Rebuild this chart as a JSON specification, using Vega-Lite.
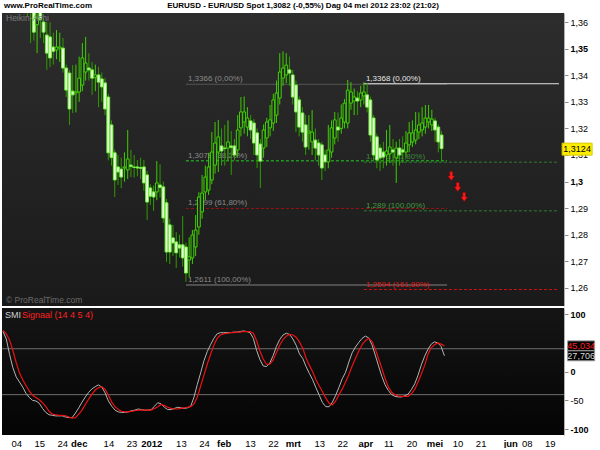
{
  "$schema": "https://vega.github.io/schema/vega-lite/v6.json",
  "background": "white",
  "padding": {"left": 0, "top": 2, "right": 0, "bottom": 0},
  "spacing": 2,
  "config": {"view": {"stroke": null}, "font": "Liberation Sans", "axis": {"labelOverlap": false, "labelFlush": false, "labelBound": false}},
  "datasets": {
    "ha": [
      {"i":0,"o":1.379,"c":1.375,"h":1.385,"l":1.368},
      {"i":1,"o":1.377,"c":1.372,"h":1.382,"l":1.366},
      {"i":2,"o":1.3745,"c":1.376,"h":1.385,"l":1.37},
      {"i":3,"o":1.3752,"c":1.3775,"h":1.386,"l":1.37},
      {"i":4,"o":1.3765,"c":1.372,"h":1.38,"l":1.365},
      {"i":5,"o":1.374,"c":1.369,"h":1.378,"l":1.362},
      {"i":6,"o":1.3715,"c":1.366,"h":1.376,"l":1.3521},
      {"i":7,"o":1.368,"c":1.3562,"h":1.37,"l":1.353},
      {"i":8,"o":1.359,"c":1.3615,"h":1.365,"l":1.3483},
      {"i":9,"o":1.364,"c":1.361,"h":1.368,"l":1.354},
      {"i":10,"o":1.36,"c":1.3562,"h":1.3615,"l":1.3521},
      {"i":11,"o":1.3551,"c":1.3483,"h":1.36,"l":1.342},
      {"i":12,"o":1.3544,"c":1.3465,"h":1.36,"l":1.343},
      {"i":13,"o":1.3506,"c":1.349,"h":1.356,"l":1.344},
      {"i":14,"o":1.3495,"c":1.3506,"h":1.357,"l":1.346},
      {"i":15,"o":1.3502,"c":1.3506,"h":1.356,"l":1.345},
      {"i":16,"o":1.3502,"c":1.3427,"h":1.354,"l":1.341},
      {"i":17,"o":1.3427,"c":1.3344,"h":1.344,"l":1.3318},
      {"i":18,"o":1.3408,"c":1.3273,"h":1.342,"l":1.3213},
      {"i":19,"o":1.334,"c":1.3326,"h":1.3438,"l":1.3258},
      {"i":20,"o":1.3333,"c":1.3337,"h":1.344,"l":1.326},
      {"i":21,"o":1.3337,"c":1.3389,"h":1.347,"l":1.33},
      {"i":22,"o":1.3363,"c":1.3465,"h":1.3521,"l":1.334},
      {"i":23,"o":1.3412,"c":1.3446,"h":1.3544,"l":1.338},
      {"i":24,"o":1.3427,"c":1.342,"h":1.3483,"l":1.338},
      {"i":25,"o":1.342,"c":1.3389,"h":1.345,"l":1.3326},
      {"i":26,"o":1.3392,"c":1.3401,"h":1.344,"l":1.334},
      {"i":27,"o":1.3401,"c":1.3374,"h":1.3431,"l":1.328},
      {"i":28,"o":1.3386,"c":1.3356,"h":1.341,"l":1.33},
      {"i":29,"o":1.3371,"c":1.3273,"h":1.339,"l":1.325},
      {"i":30,"o":1.3318,"c":1.3108,"h":1.333,"l":1.308},
      {"i":31,"o":1.3213,"c":1.309,"h":1.323,"l":1.306},
      {"i":32,"o":1.3108,"c":1.3006,"h":1.312,"l":1.2942},
      {"i":33,"o":1.3055,"c":1.3036,"h":1.31,"l":1.2987},
      {"i":34,"o":1.3047,"c":1.3017,"h":1.309,"l":1.2975},
      {"i":35,"o":1.3051,"c":1.3055,"h":1.311,"l":1.3},
      {"i":36,"o":1.3044,"c":1.3085,"h":1.3194,"l":1.301},
      {"i":37,"o":1.3062,"c":1.3057,"h":1.3119,"l":1.3017},
      {"i":38,"o":1.3055,"c":1.3053,"h":1.31,"l":1.3015},
      {"i":39,"o":1.3055,"c":1.3051,"h":1.3081,"l":1.302},
      {"i":40,"o":1.3053,"c":1.305,"h":1.309,"l":1.301},
      {"i":41,"o":1.3055,"c":1.2995,"h":1.3081,"l":1.2965},
      {"i":42,"o":1.3025,"c":1.2923,"h":1.304,"l":1.2856},
      {"i":43,"o":1.2976,"c":1.2945,"h":1.299,"l":1.2912},
      {"i":44,"o":1.2961,"c":1.2942,"h":1.2985,"l":1.289},
      {"i":45,"o":1.2961,"c":1.2995,"h":1.3077,"l":1.293},
      {"i":46,"o":1.2987,"c":1.2978,"h":1.3065,"l":1.294},
      {"i":47,"o":1.298,"c":1.2863,"h":1.3,"l":1.2845},
      {"i":48,"o":1.292,"c":1.2735,"h":1.2935,"l":1.2698},
      {"i":49,"o":1.2837,"c":1.2735,"h":1.286,"l":1.269},
      {"i":50,"o":1.2788,"c":1.2769,"h":1.2837,"l":1.272},
      {"i":51,"o":1.2773,"c":1.2732,"h":1.281,"l":1.2675},
      {"i":52,"o":1.2762,"c":1.275,"h":1.28,"l":1.2715},
      {"i":53,"o":1.2762,"c":1.2713,"h":1.287,"l":1.268},
      {"i":54,"o":1.2754,"c":1.2656,"h":1.277,"l":1.2623},
      {"i":55,"o":1.2705,"c":1.2717,"h":1.279,"l":1.264},
      {"i":56,"o":1.2713,"c":1.2799,"h":1.2818,"l":1.269},
      {"i":57,"o":1.2754,"c":1.2818,"h":1.2874,"l":1.272},
      {"i":58,"o":1.2829,"c":1.2942,"h":1.296,"l":1.28},
      {"i":59,"o":1.2886,"c":1.2957,"h":1.3025,"l":1.286},
      {"i":60,"o":1.2961,"c":1.3017,"h":1.306,"l":1.293},
      {"i":61,"o":1.2968,"c":1.3055,"h":1.3108,"l":1.295},
      {"i":62,"o":1.3006,"c":1.3111,"h":1.3186,"l":1.299},
      {"i":63,"o":1.3062,"c":1.3145,"h":1.3224,"l":1.303},
      {"i":64,"o":1.3111,"c":1.3168,"h":1.3232,"l":1.3036},
      {"i":65,"o":1.3134,"c":1.3115,"h":1.32,"l":1.306},
      {"i":66,"o":1.3126,"c":1.3124,"h":1.3213,"l":1.306},
      {"i":67,"o":1.3126,"c":1.3149,"h":1.323,"l":1.308},
      {"i":68,"o":1.3134,"c":1.3128,"h":1.319,"l":1.3025},
      {"i":69,"o":1.3134,"c":1.31,"h":1.316,"l":1.308},
      {"i":70,"o":1.3119,"c":1.3194,"h":1.325,"l":1.309},
      {"i":71,"o":1.3202,"c":1.3262,"h":1.3318,"l":1.317},
      {"i":72,"o":1.3224,"c":1.3262,"h":1.332,"l":1.318},
      {"i":73,"o":1.3205,"c":1.3239,"h":1.328,"l":1.317},
      {"i":74,"o":1.3228,"c":1.3194,"h":1.325,"l":1.316},
      {"i":75,"o":1.322,"c":1.3145,"h":1.3235,"l":1.31},
      {"i":76,"o":1.3183,"c":1.31,"h":1.32,"l":1.3051},
      {"i":77,"o":1.3141,"c":1.3077,"h":1.316,"l":1.2976},
      {"i":78,"o":1.3126,"c":1.3194,"h":1.3215,"l":1.309},
      {"i":79,"o":1.3164,"c":1.3224,"h":1.324,"l":1.313},
      {"i":80,"o":1.3202,"c":1.3232,"h":1.3288,"l":1.317},
      {"i":81,"o":1.322,"c":1.3307,"h":1.333,"l":1.319},
      {"i":82,"o":1.325,"c":1.3333,"h":1.338,"l":1.322},
      {"i":83,"o":1.3314,"c":1.3412,"h":1.3483,"l":1.329},
      {"i":84,"o":1.3389,"c":1.3427,"h":1.349,"l":1.336},
      {"i":85,"o":1.3401,"c":1.3438,"h":1.3483,"l":1.337},
      {"i":86,"o":1.342,"c":1.3408,"h":1.347,"l":1.336},
      {"i":87,"o":1.3401,"c":1.3318,"h":1.342,"l":1.329},
      {"i":88,"o":1.3363,"c":1.3262,"h":1.338,"l":1.3186},
      {"i":89,"o":1.3307,"c":1.3205,"h":1.332,"l":1.317},
      {"i":90,"o":1.3258,"c":1.3186,"h":1.328,"l":1.315},
      {"i":91,"o":1.3213,"c":1.313,"h":1.325,"l":1.31},
      {"i":92,"o":1.3183,"c":1.319,"h":1.325,"l":1.312},
      {"i":93,"o":1.3149,"c":1.3186,"h":1.3269,"l":1.31},
      {"i":94,"o":1.3156,"c":1.3126,"h":1.32,"l":1.308},
      {"i":95,"o":1.3145,"c":1.31,"h":1.316,"l":1.306},
      {"i":96,"o":1.3138,"c":1.3051,"h":1.315,"l":1.3006},
      {"i":97,"o":1.31,"c":1.3074,"h":1.312,"l":1.304},
      {"i":98,"o":1.3074,"c":1.3119,"h":1.3213,"l":1.305},
      {"i":99,"o":1.3111,"c":1.3202,"h":1.323,"l":1.309},
      {"i":100,"o":1.3164,"c":1.3232,"h":1.3262,"l":1.314},
      {"i":101,"o":1.3205,"c":1.3194,"h":1.326,"l":1.315},
      {"i":102,"o":1.32,"c":1.3239,"h":1.329,"l":1.318},
      {"i":103,"o":1.3224,"c":1.3295,"h":1.331,"l":1.32},
      {"i":104,"o":1.322,"c":1.3344,"h":1.3382,"l":1.32},
      {"i":105,"o":1.3295,"c":1.3337,"h":1.3374,"l":1.327},
      {"i":106,"o":1.3303,"c":1.3318,"h":1.335,"l":1.325},
      {"i":107,"o":1.3314,"c":1.3303,"h":1.334,"l":1.325},
      {"i":108,"o":1.3307,"c":1.3333,"h":1.336,"l":1.328},
      {"i":109,"o":1.3322,"c":1.3337,"h":1.3374,"l":1.329},
      {"i":110,"o":1.3326,"c":1.328,"h":1.337,"l":1.326},
      {"i":111,"o":1.3307,"c":1.3175,"h":1.332,"l":1.315},
      {"i":112,"o":1.3239,"c":1.31,"h":1.325,"l":1.308},
      {"i":113,"o":1.3168,"c":1.3081,"h":1.318,"l":1.305},
      {"i":114,"o":1.3126,"c":1.3089,"h":1.314,"l":1.304},
      {"i":115,"o":1.3111,"c":1.3092,"h":1.315,"l":1.305},
      {"i":116,"o":1.31,"c":1.3115,"h":1.3194,"l":1.306},
      {"i":117,"o":1.3104,"c":1.313,"h":1.3213,"l":1.307},
      {"i":118,"o":1.3119,"c":1.3111,"h":1.316,"l":1.306},
      {"i":119,"o":1.3089,"c":1.3126,"h":1.315,"l":1.2995},
      {"i":120,"o":1.3126,"c":1.31,"h":1.316,"l":1.306},
      {"i":121,"o":1.3119,"c":1.3111,"h":1.317,"l":1.307},
      {"i":122,"o":1.3111,"c":1.3145,"h":1.319,"l":1.309},
      {"i":123,"o":1.3138,"c":1.3183,"h":1.3224,"l":1.311},
      {"i":124,"o":1.3149,"c":1.3183,"h":1.323,"l":1.313},
      {"i":125,"o":1.3156,"c":1.3194,"h":1.3262,"l":1.314},
      {"i":126,"o":1.3186,"c":1.3213,"h":1.326,"l":1.316},
      {"i":127,"o":1.3194,"c":1.322,"h":1.328,"l":1.317},
      {"i":128,"o":1.3205,"c":1.3239,"h":1.3288,"l":1.318},
      {"i":129,"o":1.3224,"c":1.3239,"h":1.3288,"l":1.32},
      {"i":130,"o":1.3213,"c":1.3235,"h":1.327,"l":1.319},
      {"i":131,"o":1.3228,"c":1.3194,"h":1.324,"l":1.315},
      {"i":132,"o":1.3205,"c":1.3149,"h":1.3215,"l":1.311},
      {"i":133,"o":1.3175,"c":1.3124,"h":1.319,"l":1.3077}
    ],
    "ind": [
      {"i":-1,"smi":70,"sig":72},{"i":0,"smi":57,"sig":66},{"i":1,"smi":30,"sig":55},{"i":2,"smi":7,"sig":37},
      {"i":3,"smi":-9,"sig":16},{"i":4,"smi":-18,"sig":-2},{"i":5,"smi":-27,"sig":-14},{"i":6,"smi":-38,"sig":-24},
      {"i":7,"smi":-45,"sig":-34},{"i":8,"smi":-50,"sig":-41},{"i":9,"smi":-51,"sig":-45},{"i":10,"smi":-55,"sig":-49},
      {"i":11,"smi":-64,"sig":-54},{"i":12,"smi":-71,"sig":-61},{"i":13,"smi":-75,"sig":-69},{"i":14,"smi":-76,"sig":-74},
      {"i":15,"smi":-77,"sig":-75},{"i":16,"smi":-77,"sig":-76},{"i":17,"smi":-77,"sig":-76},{"i":18,"smi":-79,"sig":-77},
      {"i":19,"smi":-80,"sig":-79},{"i":20,"smi":-80,"sig":-81},{"i":21,"smi":-72,"sig":-80},{"i":22,"smi":-63,"sig":-74},
      {"i":23,"smi":-53,"sig":-67},{"i":24,"smi":-44,"sig":-57},{"i":25,"smi":-36,"sig":-48},{"i":26,"smi":-30,"sig":-39},
      {"i":27,"smi":-26,"sig":-32},{"i":28,"smi":-23,"sig":-28},{"i":29,"smi":-27,"sig":-26},{"i":30,"smi":-37,"sig":-31},
      {"i":31,"smi":-51,"sig":-41},{"i":32,"smi":-60,"sig":-53},{"i":33,"smi":-67,"sig":-61},{"i":34,"smi":-70,"sig":-66},
      {"i":35,"smi":-71,"sig":-69},{"i":36,"smi":-71,"sig":-70},{"i":37,"smi":-70,"sig":-70},{"i":38,"smi":-68,"sig":-69},
      {"i":39,"smi":-67,"sig":-68},{"i":40,"smi":-65,"sig":-67},{"i":41,"smi":-66,"sig":-67},{"i":42,"smi":-67,"sig":-67},
      {"i":43,"smi":-67,"sig":-67},{"i":44,"smi":-66,"sig":-67},{"i":45,"smi":-60,"sig":-64},{"i":46,"smi":-54,"sig":-61},
      {"i":47,"smi":-56,"sig":-57},{"i":48,"smi":-62,"sig":-59},{"i":49,"smi":-66,"sig":-62},{"i":50,"smi":-66,"sig":-64},
      {"i":51,"smi":-64,"sig":-65},{"i":52,"smi":-62,"sig":-65},{"i":53,"smi":-63,"sig":-64},{"i":54,"smi":-64,"sig":-63},
      {"i":55,"smi":-63,"sig":-62},{"i":56,"smi":-60,"sig":-61},{"i":57,"smi":-44,"sig":-56},{"i":58,"smi":-22,"sig":-44},
      {"i":59,"smi":-2,"sig":-25},{"i":60,"smi":19,"sig":-6},{"i":61,"smi":35,"sig":13},{"i":62,"smi":47,"sig":30},
      {"i":63,"smi":58,"sig":46},{"i":64,"smi":66,"sig":58},{"i":65,"smi":68,"sig":64},{"i":66,"smi":68,"sig":66},
      {"i":67,"smi":68,"sig":67},{"i":68,"smi":68,"sig":68},{"i":69,"smi":69,"sig":68},{"i":70,"smi":69,"sig":69},
      {"i":71,"smi":70,"sig":69},{"i":72,"smi":71,"sig":70},{"i":73,"smi":70,"sig":70},{"i":74,"smi":68,"sig":70},
      {"i":75,"smi":58,"sig":67},{"i":76,"smi":37,"sig":54},{"i":77,"smi":21,"sig":36},{"i":78,"smi":10,"sig":22},
      {"i":79,"smi":9,"sig":13},{"i":80,"smi":15,"sig":13},{"i":81,"smi":28,"sig":20},{"i":82,"smi":44,"sig":33},
      {"i":83,"smi":56,"sig":46},{"i":84,"smi":64,"sig":56},{"i":85,"smi":67,"sig":62},{"i":86,"smi":65,"sig":65},
      {"i":87,"smi":57,"sig":64},{"i":88,"smi":46,"sig":60},{"i":89,"smi":31,"sig":52},{"i":90,"smi":23,"sig":41},
      {"i":91,"smi":9,"sig":24},{"i":92,"smi":-3,"sig":11},{"i":93,"smi":-14,"sig":0},{"i":94,"smi":-28,"sig":-14},
      {"i":95,"smi":-41,"sig":-25},{"i":96,"smi":-54,"sig":-35},{"i":97,"smi":-61,"sig":-46},{"i":98,"smi":-61,"sig":-55},
      {"i":99,"smi":-53,"sig":-58},{"i":100,"smi":-41,"sig":-51},{"i":101,"smi":-27,"sig":-40},{"i":102,"smi":-12,"sig":-30},
      {"i":103,"smi":-1,"sig":-18},{"i":104,"smi":17,"sig":-5},{"i":105,"smi":33,"sig":10},{"i":106,"smi":43,"sig":23},
      {"i":107,"smi":51,"sig":36},{"i":108,"smi":58,"sig":47},{"i":109,"smi":62,"sig":54},{"i":110,"smi":59,"sig":58},
      {"i":111,"smi":47,"sig":53},{"i":112,"smi":29,"sig":40},{"i":113,"smi":10,"sig":23},{"i":114,"smi":-8,"sig":6},
      {"i":115,"smi":-23,"sig":-12},{"i":116,"smi":-33,"sig":-27},{"i":117,"smi":-40,"sig":-36},{"i":118,"smi":-43,"sig":-40},
      {"i":119,"smi":-44,"sig":-42},{"i":120,"smi":-44,"sig":-43},{"i":121,"smi":-42,"sig":-43},{"i":122,"smi":-39,"sig":-43},
      {"i":123,"smi":-31,"sig":-38},{"i":124,"smi":-21,"sig":-31},{"i":125,"smi":-6,"sig":-18},{"i":126,"smi":12,"sig":-4},
      {"i":127,"smi":27,"sig":11},{"i":128,"smi":39,"sig":30},{"i":129,"smi":48,"sig":42},{"i":130,"smi":52,"sig":47},
      {"i":131,"smi":50,"sig":50},{"i":132,"smi":44,"sig":48},{"i":133,"smi":27.706,"sig":45.034}
    ],
    "fib": [
      {"lvl":"a0","i0":54,"i1":134.7,"p":1.3366,"lab":"1,3366 (0,00%)"},
      {"lvl":"a382","i0":54,"i1":134.7,"p":1.3078,"lab":"1,3078 (38,20%)"},
      {"lvl":"a618","i0":54,"i1":134.7,"p":1.2899,"lab":"1,2899 (61,80%)"},
      {"lvl":"a100","i0":54,"i1":134.7,"p":1.2611,"lab":"1,2611 (100,00%)"},
      {"lvl":"b0","i0":109,"i1":169.3,"p":1.3368,"lab":"1,3368 (0,00%)"},
      {"lvl":"b618","i0":109,"i1":169.3,"p":1.3073,"lab":"1,3073 (61,80%)"},
      {"lvl":"b100","i0":109,"i1":169.3,"p":1.289,"lab":"1,289 (100,00%)"},
      {"lvl":"b1618","i0":109,"i1":169.3,"p":1.2594,"lab":"1,2594 (161,80%)"}
    ],
    "arrows": [{"i":136,"p":1.3021},{"i":138,"p":1.298},{"i":140,"p":1.2942}],
    "last": [{"p":1.3122,"lab":"1,3124"}],
    "lastInd": [{"v":45.034,"lab":"45,034","k":"sig"},{"v":27.706,"lab":"27,706","k":"smi"}],
    "bands": [{"lvl":40},{"lvl":-40}]
  },
  "vconcat": [
    {
      "width": 562,
      "height": 293,
      "view": {"fill": {"gradient": "linear", "x1": 0, "y1": 0, "x2": 0, "y2": 1, "stops": [{"offset": 0, "color": "#2d2d2d"}, {"offset": 1, "color": "#1a1a1a"}]}},
      "layer": [
        {
          "data": {"name": "fib"},
          "mark": {"type": "rule", "strokeWidth": 1},
          "encoding": {
            "x": {"field": "i0", "type": "quantitative", "scale": {"domain": [-1.3, 169.3], "nice": false, "zero": false}, "axis": null},
            "x2": {"field": "i1"},
            "y": {"field": "p", "type": "quantitative", "scale": {"domain": [1.2532, 1.3634], "nice": false, "zero": false},
              "axis": {"orient": "right", "title": null, "grid": false, "tickCount": 100, "values": [1.26,1.27,1.28,1.29,1.3,1.31,1.32,1.33,1.34,1.35,1.36],
                "labelExpr": "datum.value == 1.3 ? '1,3' : replace(format(datum.value, '.2f'), '.', ',')",
                "labelFontWeight": {"condition": {"test": "datum.value == 1.3 || datum.value == 1.35", "value": "bold"}, "value": "normal"},
                "labelFontSize": 9, "labelColor": "#000000", "labelPadding": 2, "tickSize": 4, "tickColor": "#8c8c8c",
                "domain": true, "domainColor": "#b0b0b0", "labelOverlap": false, "labelFlush": false}},
            "stroke": {"field": "lvl", "type": "nominal", "legend": null,
              "scale": {"domain": ["a0","a382","a618","a100","b0","b618","b100","b1618"],
                        "range": ["#5a5a5a","#22d022","#9a1414","#8a8a8a","#ececec","#2e7d2e","#2e7d2e","#cc1111"]}},
            "strokeDash": {"field": "lvl", "type": "nominal", "legend": null,
              "scale": {"domain": ["a0","a382","a618","a100","b0","b618","b100","b1618"],
                        "range": [[1,0],[3,2],[3,2],[1,0],[1,0],[3,2],[3,2],[3,2]]}}
          }
        },
        {
          "data": {"name": "fib"},
          "mark": {"type": "text", "align": "left", "baseline": "alphabetic", "dx": 2, "dy": -3, "fontSize": 8},
          "encoding": {
            "x": {"field": "i0", "type": "quantitative", "axis": null},
            "y": {"field": "p", "type": "quantitative"},
            "text": {"field": "lab"},
            "fill": {"field": "lvl", "type": "nominal", "legend": null,
              "scale": {"domain": ["a0","a382","a618","a100","b0","b618","b100","b1618"],
                        "range": ["#8a8a8a","#8a8a8a","#8a8a8a","#8a8a8a","#e6e6e6","#3a8a3a","#3f9a3f","#e01515"]}}
          }
        },
        {
          "data": {"name": "ha"},
          "mark": {"type": "rule", "strokeWidth": 1, "clip": true},
          "encoding": {
            "x": {"field": "i", "type": "quantitative", "axis": null},
            "y": {"field": "l", "type": "quantitative"},
            "y2": {"field": "h"},
            "color": {"condition": {"test": "datum.c < datum.o", "value": "#2f9c00"}, "value": "#3fcc00"}
          }
        },
        {
          "data": {"name": "ha"},
          "mark": {"type": "bar", "width": 2.8, "strokeWidth": 1, "clip": true},
          "encoding": {
            "x": {"field": "i", "type": "quantitative", "axis": null},
            "y": {"field": "o", "type": "quantitative"},
            "y2": {"field": "c"},
            "fill": {"condition": {"test": "datum.c < datum.o", "value": "#eaffdc"}, "value": "#232323"},
            "stroke": {"condition": {"test": "datum.c < datum.o", "value": "#6ef03a"}, "value": "#3fd400"}
          }
        },
        {
          "data": {"name": "arrows"},
          "mark": {"type": "point", "shape": "M-0.32,-1L0.32,-1L0.32,0L0.75,0L0,1L-0.75,0L-0.32,0Z", "size": 81, "filled": true, "fill": "#ff1a1a", "stroke": "#8a0000", "strokeWidth": 0.5, "opacity": 1},
          "encoding": {
            "x": {"field": "i", "type": "quantitative", "axis": null},
            "y": {"field": "p", "type": "quantitative"}
          }
        },
        {
          "data": {"values": [{"t": "Heikin-Ashi"}]},
          "mark": {"type": "text", "align": "left", "baseline": "top", "dx": -1, "dy": 1, "fontSize": 8.5, "fill": "#7c7c7c"},
          "encoding": {"x": {"datum": -1.3, "axis": null}, "y": {"datum": 1.3634}, "text": {"field": "t"}}
        },
        {
          "data": {"values": [{"t": "© ProRealTime.com"}]},
          "mark": {"type": "text", "align": "left", "baseline": "bottom", "dx": -1, "dy": -1, "fontSize": 8.5, "fill": "#6c6c6c"},
          "encoding": {"x": {"datum": -1.3, "axis": null}, "y": {"datum": 1.2532}, "text": {"field": "t"}}
        },
        {
          "data": {"values": [{"t": "www.ProRealTime.com"}]},
          "mark": {"type": "text", "align": "left", "baseline": "middle", "dx": -3, "fontSize": 8, "fontWeight": "bold", "fill": "#000000"},
          "encoding": {"x": {"datum": -1.3, "axis": null}, "y": {"datum": 1.366}, "text": {"field": "t"}}
        },
        {
          "data": {"values": [{"t": "EURUSD - EUR/USD Spot   1,3082 (-0,55%)   Dag  04 mei 2012 23:02 (21:02)"}]},
          "mark": {"type": "text", "align": "left", "baseline": "middle", "fontSize": 8, "fontWeight": "bold", "fill": "#000000"},
          "encoding": {"x": {"datum": 48.2, "axis": null}, "y": {"datum": 1.366}, "text": {"field": "t"}}
        },
        {
          "data": {"name": "last"},
          "mark": {"type": "point", "shape": "M-1,-0.4L1,-0.4L1,0.4L-1,0.4Z", "size": 900, "filled": true, "fill": "#ffee00", "stroke": "#d8c800", "strokeWidth": 1, "opacity": 1},
          "encoding": {"x": {"datum": 174.9, "axis": null}, "y": {"field": "p", "type": "quantitative"}}
        },
        {
          "data": {"name": "last"},
          "mark": {"type": "text", "align": "center", "baseline": "middle", "fontSize": 9, "fill": "#000000"},
          "encoding": {"x": {"datum": 174.9, "axis": null}, "y": {"field": "p", "type": "quantitative"}, "text": {"field": "lab"}}
        }
      ]
    },
    {
      "width": 562,
      "height": 127,
      "view": {"fill": {"gradient": "linear", "x1": 0, "y1": 0, "x2": 0, "y2": 1, "stops": [{"offset": 0, "color": "#151515"}, {"offset": 1, "color": "#040404"}]}},
      "layer": [
        {
          "data": {"name": "bands"},
          "mark": {"type": "rule", "color": "#6e6e6e", "strokeWidth": 1},
          "encoding": {"y": {"field": "lvl", "type": "quantitative", "scale": {"domain": [-110.3, 111], "nice": false, "zero": false}}}
        },
        {
          "data": {"name": "ind"},
          "mark": {"type": "line", "color": "#b4b4b4", "strokeWidth": 1},
          "encoding": {
            "x": {"field": "i", "type": "quantitative", "scale": {"domain": [-1.3, 169.3], "nice": false, "zero": false},
              "axis": {"orient": "bottom", "title": null, "grid": false, "ticks": false, "domain": false, "tickCount": 100,
                "values": [3,10,17,22,31,38,44,53,60,66,74,81,87,95,102,109,116,123,130,137,144,153,158,165],
                "labelExpr": "['04','15','24','dec','14','23','2012','13','24','feb','13','22','mrt','13','22','apr','11','20','mei','10','21','jun','08','19'][indexof([3,10,17,22,31,38,44,53,60,66,74,81,87,95,102,109,116,123,130,137,144,153,158,165], datum.value)]",
                "labelFontWeight": {"condition": {"test": "indexof([22,44,66,87,109,130,153], datum.value) >= 0", "value": "bold"}, "value": "normal"},
                "labelFontSize": 9.5, "labelColor": "#000000", "labelPadding": 3, "labelOverlap": false, "labelFlush": false}},
            "y": {"field": "smi", "type": "quantitative",
              "axis": {"orient": "right", "title": null, "grid": false, "tickCount": 100, "values": [100, 0, -50, -100],
                "labelExpr": "datum.value < 0 ? '-' + abs(datum.value) : '' + datum.value",
                "labelFontWeight": {"condition": {"test": "datum.value != -50", "value": "bold"}, "value": "normal"},
                "labelFontSize": 9, "labelColor": "#000000", "labelPadding": 2, "tickSize": 4, "tickColor": "#8c8c8c",
                "domain": true, "domainColor": "#b0b0b0", "labelOverlap": false, "labelFlush": false}}
          }
        },
        {
          "data": {"name": "ind"},
          "mark": {"type": "line", "color": "#ee1111", "strokeWidth": 1.2},
          "encoding": {
            "x": {"field": "i", "type": "quantitative"},
            "y": {"field": "sig", "type": "quantitative"}
          }
        },
        {
          "data": {"name": "lastInd"},
          "mark": {"type": "point", "shape": "M-1,-0.37L1,-0.37L1,0.37L-1,0.37Z", "size": 729, "filled": true, "fill": "#000000", "stroke": "#9a9a9a", "strokeWidth": 1, "opacity": 1},
          "encoding": {"x": {"datum": 174.5}, "y": {"field": "v", "type": "quantitative"}}
        },
        {
          "data": {"name": "lastInd"},
          "mark": {"type": "text", "align": "center", "baseline": "middle", "fontSize": 9},
          "encoding": {
            "x": {"datum": 174.5},
            "y": {"field": "v", "type": "quantitative"},
            "text": {"field": "lab"},
            "color": {"condition": {"test": "datum.k == 'sig'", "value": "#ff2222"}, "value": "#d8d8d8"}
          }
        },
        {
          "data": {"values": [{"t": "SMI"}]},
          "mark": {"type": "text", "align": "left", "baseline": "top", "dx": 3, "dy": 3, "fontSize": 9, "fill": "#d0d0d0"},
          "encoding": {"x": {"datum": -1.3}, "y": {"datum": 111}, "text": {"field": "t"}}
        },
        {
          "data": {"values": [{"t": "Signaal (14 4 5 4)"}]},
          "mark": {"type": "text", "align": "left", "baseline": "top", "dx": 20, "dy": 3, "fontSize": 9, "fill": "#ff2020"},
          "encoding": {"x": {"datum": -1.3}, "y": {"datum": 111}, "text": {"field": "t"}}
        }
      ]
    }
  ]
}
